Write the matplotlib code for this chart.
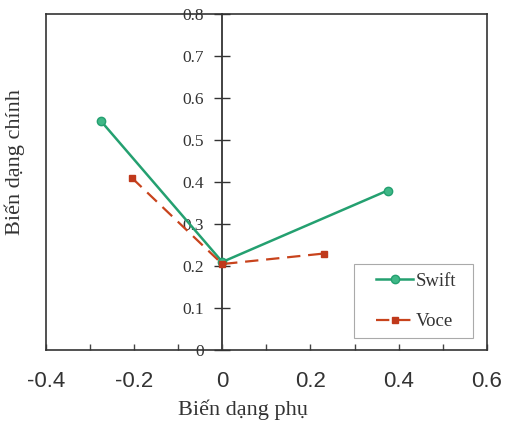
import matplotlib
matplotlib.use("Agg")
import matplotlib.pyplot as plt
from matplotlib.patches import Rectangle
from matplotlib.ticker import MultipleLocator

swift_x = [-0.275, 0.0, 0.375]
swift_y = [0.545, 0.21, 0.38]
voce_x = [-0.205, 0.0, 0.23]
voce_y = [0.41, 0.205, 0.23]
x_ticks = [-0.4, -0.2, 0, 0.2, 0.4, 0.6]
x_labels = ["-0.4", "-0.2", "0", "0.2", "0.4", "0.6"]
y_ticks = [0, 0.1, 0.2, 0.3, 0.4, 0.5, 0.6, 0.7, 0.8]
y_labels = ["0", "0.1", "0.2", "0.3", "0.4", "0.5", "0.6", "0.7", "0.8"]

serif = "Liberation Serif"
sans = "Liberation Sans"

fig = plt.figure(figsize=(5.05, 4.25), dpi=100)
ax = fig.add_axes([0.091, 0.176, 0.873, 0.791])

ax.plot(swift_x, swift_y, color="#24a070", lw=1.8, marker="o", ms=6,
        mfc="#3fb887", mec="#24a070", label="Swift", zorder=3)
ax.plot(voce_x, voce_y, color="#c8431c", lw=1.6, ls=(0, (6, 3.5)), marker="s",
        ms=5, mfc="#c0391b", mec="#c0391b", label="Voce", zorder=3)

ax.set_xlim(-0.4, 0.6)
ax.set_ylim(0, 0.8)

for s in ["top", "right", "bottom"]:
    ax.spines[s].set_linewidth(1.2)
    ax.spines[s].set_color("#333333")
ax.spines["left"].set_position(("data", 0))
ax.spines["left"].set_linewidth(1.2)
ax.spines["left"].set_color("#222222")
ax.spines["left"].set_zorder(1)
ax.plot([0, 0], [0, 1], transform=ax.transAxes, color="#333333", lw=1.2,
        clip_on=False)

ax.set_xticks(x_ticks)
ax.set_xticklabels(x_labels, fontfamily=sans, fontsize=16, color="#333333")
ax.xaxis.set_minor_locator(MultipleLocator(0.1))
ax.tick_params(axis="x", which="major", direction="in", length=4, width=1,
               pad=15, color="#444444")
ax.tick_params(axis="x", which="minor", direction="in", length=4, width=1,
               color="#444444")

ax.set_yticks(y_ticks)
ax.set_yticklabels(y_labels, fontfamily=serif, fontsize=12.5, color="#333333")
ax.tick_params(axis="y", which="major", direction="inout", length=12,
               width=1, pad=7, color="#333333")

ax.set_xlabel("Biến dạng phụ", fontfamily=serif, fontsize=16, color="#333333")
ax.xaxis.set_label_coords(0.447, -0.148)
ax.set_ylabel("Biến dạng chính", fontfamily=serif, fontsize=16,
              color="#333333")
ax.yaxis.set_label_coords(-0.048, 0.56)

# legend box
ax.add_patch(Rectangle((0.698, 0.036), 0.270, 0.220, transform=ax.transAxes,
                       fill=True, fc="white", ec="#aaaaaa", lw=0.8, zorder=4))
leg = ax.legend(loc="center", bbox_to_anchor=(0.84, 0.145),
                prop={"family": serif, "size": 13.5}, frameon=False,
                handlelength=2.0, handletextpad=0.15, labelspacing=1.25,
                borderpad=0, borderaxespad=0)
leg.set_zorder(5)
for t in leg.get_texts():
    t.set_color("#333333")

fig.savefig("out.png", dpi=100)
